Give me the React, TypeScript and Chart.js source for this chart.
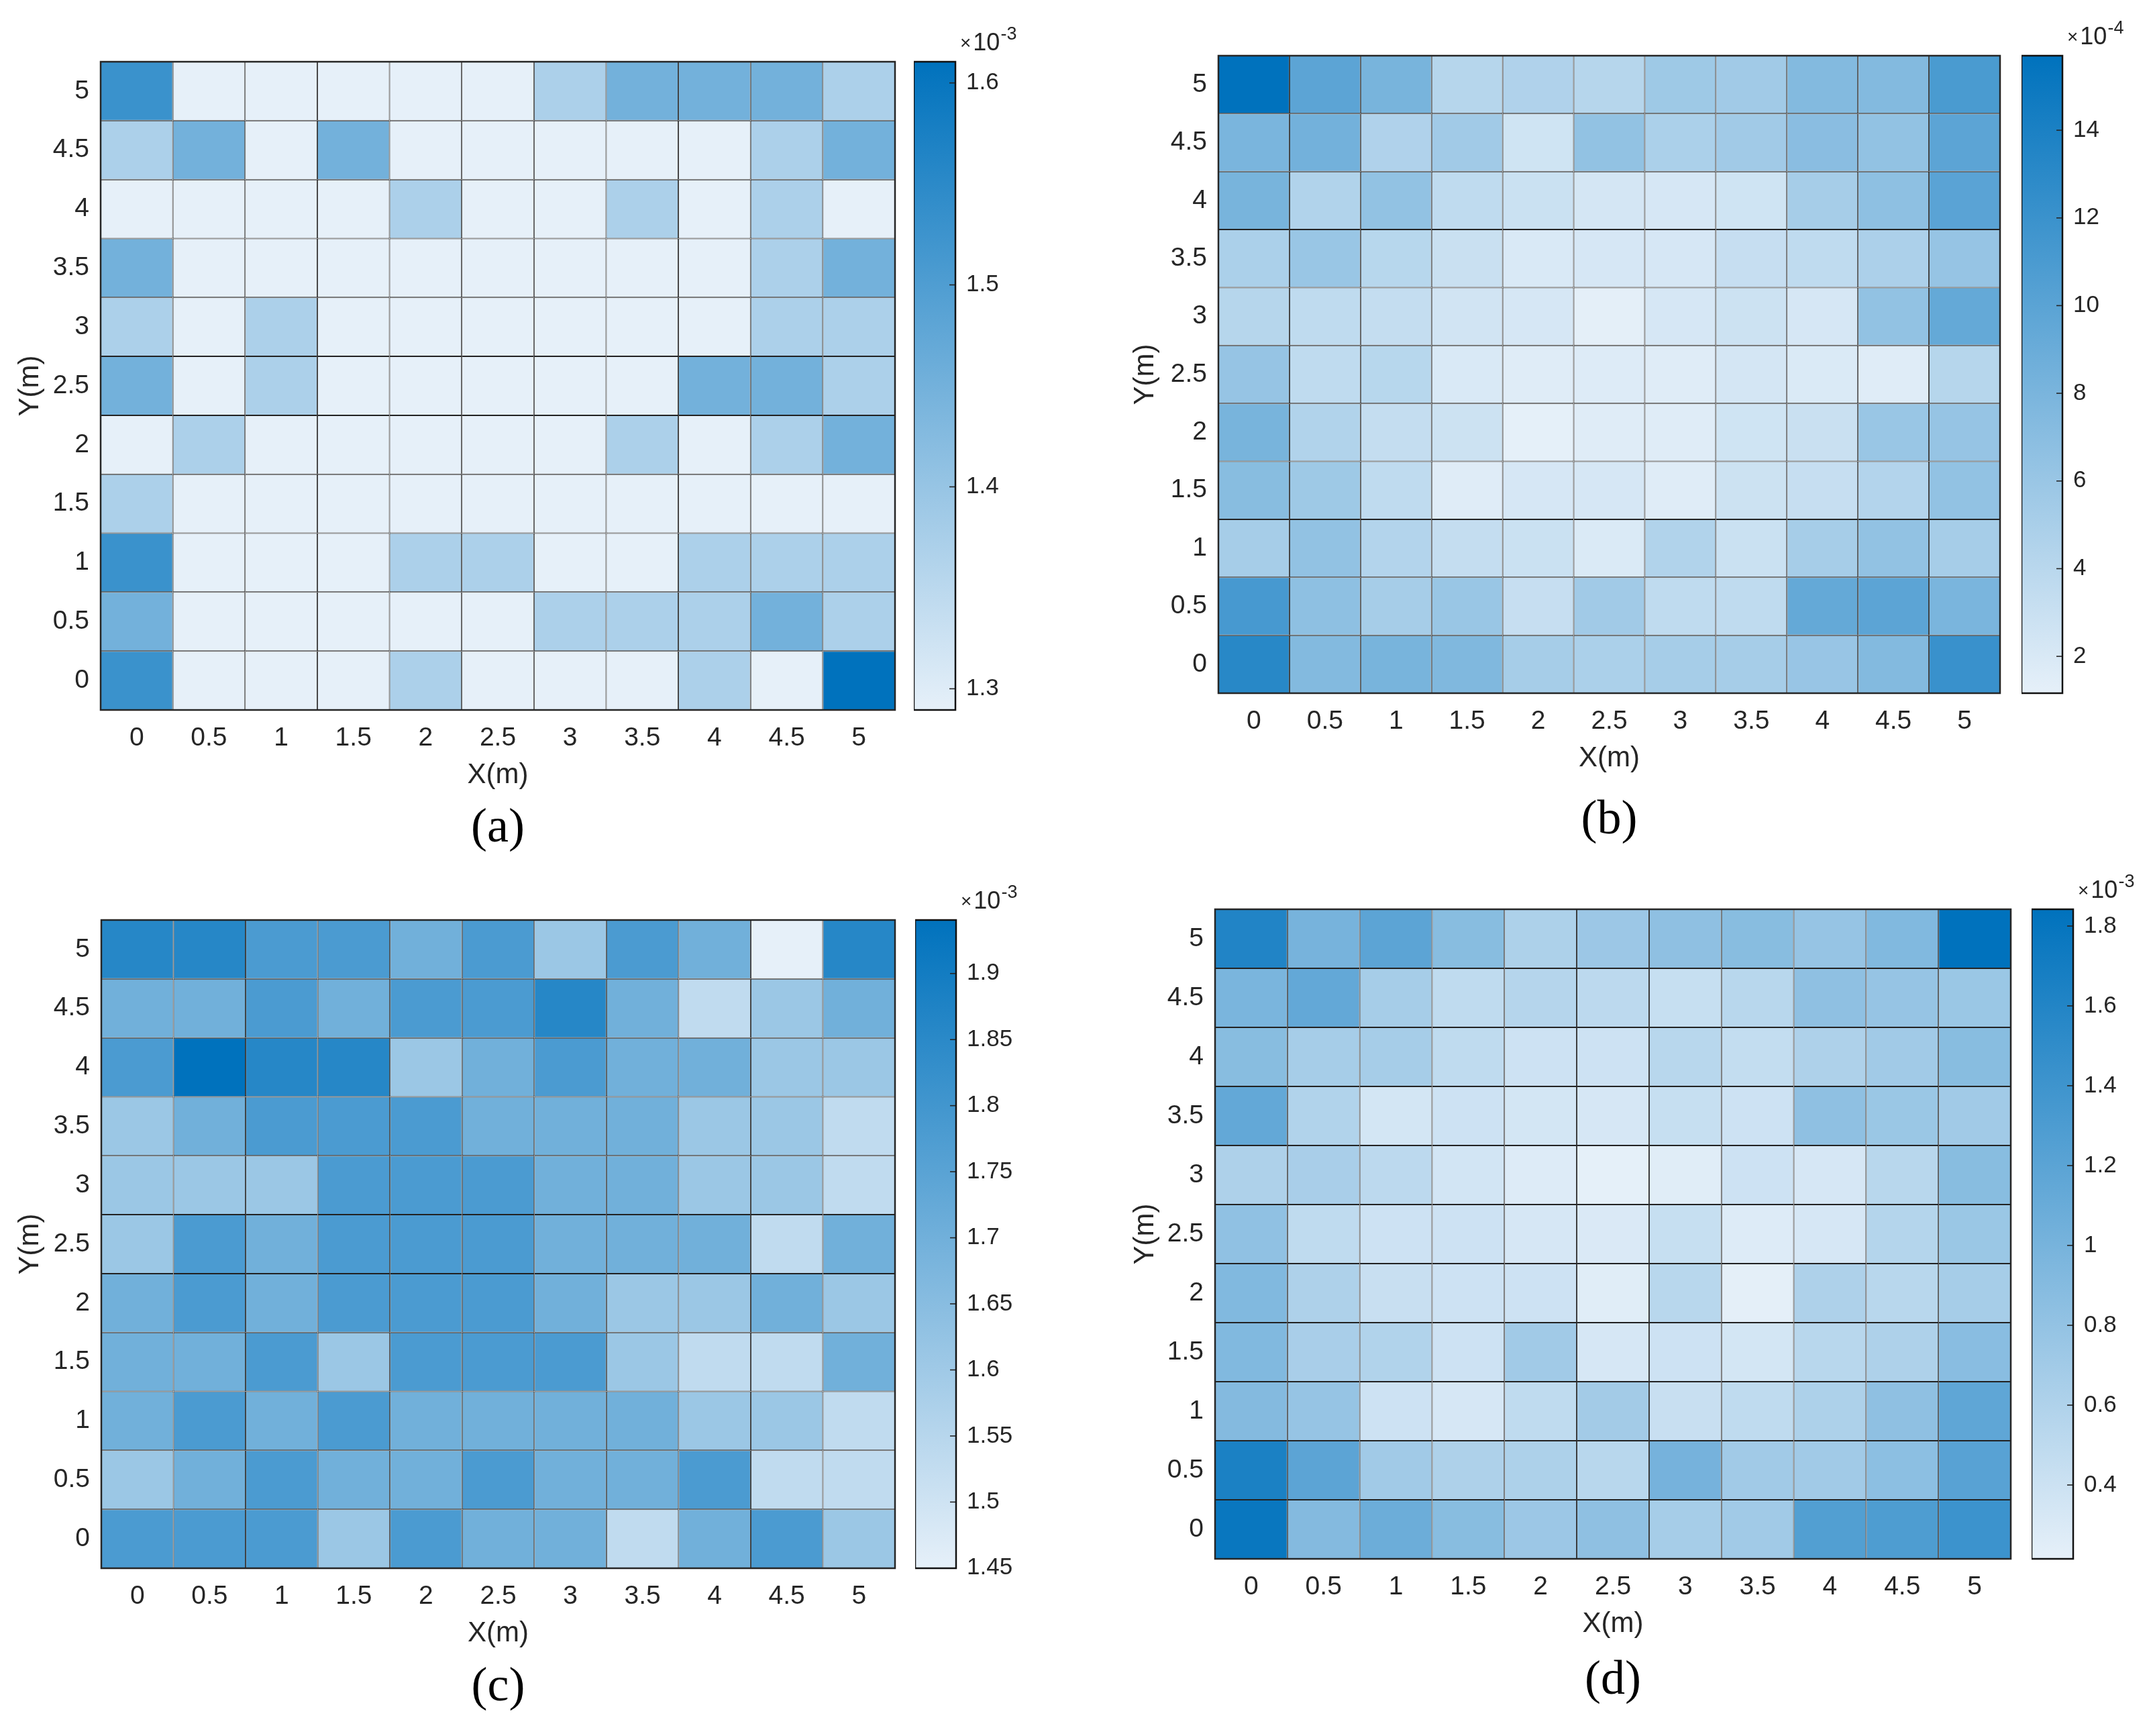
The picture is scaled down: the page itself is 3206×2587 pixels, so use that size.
import React, { useEffect, useRef } from 'react';
import { Chart, registerables } from 'chart.js';

Chart.register(...registerables);

// ---------- data ----------
const xLabels = ['0', '0.5', '1', '1.5', '2', '2.5', '3', '3.5', '4', '4.5', '5'];
const yLabels = ['0', '0.5', '1', '1.5', '2', '2.5', '3', '3.5', '4', '4.5', '5'];

// rows listed from Y = 5 (top) down to Y = 0 (bottom), columns X = 0 .. 5
// (a) values in units of 1e-3
const valuesA = [
  [1.53, 1.29, 1.29, 1.29, 1.29, 1.29, 1.37, 1.45, 1.45, 1.45, 1.37],
  [1.37, 1.45, 1.29, 1.45, 1.29, 1.29, 1.29, 1.29, 1.29, 1.37, 1.45],
  [1.29, 1.29, 1.29, 1.29, 1.37, 1.29, 1.29, 1.37, 1.29, 1.37, 1.29],
  [1.45, 1.29, 1.29, 1.29, 1.29, 1.29, 1.29, 1.29, 1.29, 1.37, 1.45],
  [1.37, 1.29, 1.37, 1.29, 1.29, 1.29, 1.29, 1.29, 1.29, 1.37, 1.37],
  [1.45, 1.29, 1.37, 1.29, 1.29, 1.29, 1.29, 1.29, 1.45, 1.45, 1.37],
  [1.29, 1.37, 1.29, 1.29, 1.29, 1.29, 1.29, 1.37, 1.29, 1.37, 1.45],
  [1.37, 1.29, 1.29, 1.29, 1.29, 1.29, 1.29, 1.29, 1.29, 1.29, 1.29],
  [1.53, 1.29, 1.29, 1.29, 1.37, 1.37, 1.29, 1.29, 1.37, 1.37, 1.37],
  [1.45, 1.29, 1.29, 1.29, 1.29, 1.29, 1.37, 1.37, 1.37, 1.45, 1.37],
  [1.53, 1.29, 1.29, 1.29, 1.37, 1.29, 1.29, 1.29, 1.37, 1.29, 1.61],
];
// (b) values in units of 1e-4
const valuesB = [
  [15.7, 9.9, 8.1, 4.2, 4.6, 4.2, 5.7, 5.5, 7.4, 7.4, 11.0],
  [8.0, 8.4, 4.6, 5.5, 2.6, 6.5, 4.9, 5.5, 7.0, 6.5, 9.9],
  [8.1, 4.5, 6.5, 3.6, 2.9, 2.3, 2.2, 2.6, 5.2, 6.7, 10.0],
  [4.9, 6.0, 4.1, 3.0, 2.0, 2.2, 2.2, 3.2, 3.6, 4.8, 6.2],
  [4.2, 3.6, 3.3, 2.5, 2.2, 1.3, 2.2, 2.8, 2.2, 6.5, 9.4],
  [6.2, 3.6, 4.1, 2.0, 1.6, 1.7, 1.6, 2.3, 1.9, 1.6, 4.2],
  [8.1, 4.5, 3.3, 2.8, 1.2, 1.6, 1.6, 2.6, 3.0, 6.0, 6.2],
  [7.1, 5.7, 3.6, 1.6, 2.2, 2.2, 1.6, 2.8, 3.2, 4.4, 6.5],
  [5.2, 6.5, 4.4, 3.3, 2.9, 1.9, 4.5, 2.9, 5.2, 6.5, 5.2],
  [11.2, 6.7, 5.2, 6.0, 3.2, 5.5, 3.6, 3.6, 9.4, 9.9, 8.0],
  [13.2, 7.4, 8.1, 7.6, 5.2, 4.9, 5.2, 5.2, 6.1, 7.4, 12.1],
];
// (c) values in units of 1e-3
const valuesC = [
  [1.86, 1.86, 1.78, 1.78, 1.70, 1.78, 1.61, 1.78, 1.70, 1.45, 1.86],
  [1.70, 1.70, 1.78, 1.70, 1.78, 1.78, 1.86, 1.70, 1.53, 1.61, 1.70],
  [1.78, 1.94, 1.86, 1.86, 1.61, 1.70, 1.78, 1.70, 1.70, 1.61, 1.61],
  [1.61, 1.70, 1.78, 1.78, 1.78, 1.70, 1.70, 1.70, 1.61, 1.61, 1.53],
  [1.61, 1.61, 1.61, 1.78, 1.78, 1.78, 1.70, 1.70, 1.61, 1.61, 1.53],
  [1.61, 1.78, 1.70, 1.78, 1.78, 1.78, 1.70, 1.70, 1.70, 1.53, 1.70],
  [1.70, 1.78, 1.70, 1.78, 1.78, 1.78, 1.70, 1.61, 1.61, 1.70, 1.61],
  [1.70, 1.70, 1.78, 1.61, 1.78, 1.78, 1.78, 1.61, 1.53, 1.53, 1.70],
  [1.70, 1.78, 1.70, 1.78, 1.70, 1.70, 1.70, 1.70, 1.61, 1.61, 1.53],
  [1.61, 1.70, 1.78, 1.70, 1.70, 1.78, 1.70, 1.70, 1.78, 1.53, 1.53],
  [1.78, 1.78, 1.78, 1.61, 1.78, 1.70, 1.70, 1.53, 1.70, 1.78, 1.61],
];
// (d) values in units of 1e-3
const valuesD = [
  [1.61, 1.00, 1.19, 0.88, 0.62, 0.74, 0.83, 0.88, 0.78, 0.93, 1.84],
  [0.98, 1.14, 0.67, 0.49, 0.56, 0.51, 0.44, 0.54, 0.83, 0.78, 0.75],
  [0.88, 0.67, 0.67, 0.49, 0.39, 0.39, 0.54, 0.46, 0.61, 0.70, 0.88],
  [1.14, 0.59, 0.35, 0.39, 0.35, 0.33, 0.44, 0.39, 0.83, 0.75, 0.70],
  [0.61, 0.65, 0.51, 0.36, 0.28, 0.22, 0.26, 0.39, 0.33, 0.54, 0.88],
  [0.82, 0.49, 0.39, 0.39, 0.33, 0.30, 0.44, 0.28, 0.33, 0.57, 0.75],
  [0.93, 0.61, 0.43, 0.39, 0.39, 0.26, 0.54, 0.23, 0.61, 0.54, 0.67],
  [0.93, 0.65, 0.59, 0.39, 0.70, 0.33, 0.39, 0.35, 0.54, 0.61, 0.87],
  [0.91, 0.78, 0.39, 0.33, 0.49, 0.69, 0.43, 0.49, 0.62, 0.83, 1.17],
  [1.65, 1.19, 0.70, 0.61, 0.62, 0.54, 1.01, 0.70, 0.70, 0.85, 1.22],
  [1.78, 0.91, 1.08, 0.88, 0.74, 0.83, 0.67, 0.70, 1.26, 1.29, 1.42],
];

const rangeA = [1.2895, 1.6105];
const rangeB = [1.16, 15.7];
const rangeC = [1.4499, 1.9405];
const rangeD = [0.215, 1.842];

const cbTicksA = [1.3, 1.4, 1.5, 1.6];
const cbTicksB = [2, 4, 6, 8, 10, 12, 14];
const cbTicksC = [1.45, 1.5, 1.55, 1.6, 1.65, 1.7, 1.75, 1.8, 1.85, 1.9];
const cbTicksD = [0.4, 0.6, 0.8, 1, 1.2, 1.4, 1.6, 1.8];

const cbLabelsA = ['1.3', '1.4', '1.5', '1.6'];
const cbLabelsB = ['2', '4', '6', '8', '10', '12', '14'];
const cbLabelsC = ['1.45', '1.5', '1.55', '1.6', '1.65', '1.7', '1.75', '1.8', '1.85', '1.9'];
const cbLabelsD = ['0.4', '0.6', '0.8', '1', '1.2', '1.4', '1.6', '1.8'];

const exponents = ['-3', '-4', '-3', '-3'];
const panelLetters = ['(a)', '(b)', '(c)', '(d)'];
const xTitle = 'X(m)';
const yTitle = 'Y(m)';

// ---------- style / layout ----------
const SANS = '"Liberation Sans", Arial, Helvetica, sans-serif';
const SERIF = '"Liberation Serif", "Times New Roman", Times, serif';
const TEXT = '#262626';
const LOW = [230, 240, 249];
const HIGH = [0, 114, 189];

const AXIS_W = 150;
const PAD_TOP = 50;
const PAD_RIGHT = 20;
const PAD_BOTTOM = 10;
const XH = 125;
const X_TICK_FONT = 39;
const AXIS_TITLE_FONT = 42;
const LETTER_FONT = 72;
const LETTER_LH = 1.25;
const CB_TICK_FONT = 35;
const CB_TOP = 90;
const CB_BOTTOM = 50;
const CB_AXIS_W = 170;

type Geo = { L: number; T: number; R: number; B: number; cbL: number; cbR: number; yOff: number; letterOff: number };

const layouts: Geo[] = [
  { L: 150, T: 92, R: 1334, B: 1058, cbL: 1362, cbR: 1424, yOff: 105, letterOff: 177 },
  { L: 1816, T: 83, R: 2981, B: 1033, cbL: 3013, cbR: 3074, yOff: 109, letterOff: 190 },
  { L: 151, T: 1371, R: 1334, B: 2337, cbL: 1364, cbR: 1425, yOff: 106, letterOff: 178 },
  { L: 1811, T: 1355, R: 2997, B: 2323, cbL: 3028, cbR: 3090, yOff: 104, letterOff: 182 },
];

const panels = [
  { values: valuesA, range: rangeA, ticks: cbTicksA, labels: cbLabelsA },
  { values: valuesB, range: rangeB, ticks: cbTicksB, labels: cbLabelsB },
  { values: valuesC, range: rangeC, ticks: cbTicksC, labels: cbLabelsC },
  { values: valuesD, range: rangeD, ticks: cbTicksD, labels: cbLabelsD },
];

function colorFor(v: number, min: number, max: number): string {
  let t = (v - min) / (max - min);
  t = Math.max(0, Math.min(1, t));
  const c = LOW.map((lo, i) => Math.round(lo + (HIGH[i] - lo) * t));
  return `rgb(${c[0]},${c[1]},${c[2]})`;
}

const framePlugin = {
  id: 'heatFrame',
  afterDatasetsDraw(chart: any) {
    const { ctx, chartArea: a } = chart;
    ctx.save();
    ctx.strokeStyle = TEXT;
    ctx.lineWidth = 2.5;
    ctx.strokeRect(a.left, a.top, a.right - a.left, a.bottom - a.top);
    ctx.restore();
  },
};

function colorbarDecor(tickValues: number[], exponent: string) {
  return {
    id: 'cbDecor',
    afterDatasetsDraw(chart: any) {
      const { ctx, chartArea: a, scales } = chart;
      const y = scales.y;
      ctx.save();
      ctx.strokeStyle = TEXT;
      ctx.lineWidth = 1.6;
      tickValues.forEach((v) => {
        const py = y.getPixelForValue(v);
        ctx.beginPath();
        ctx.moveTo(a.right - 9, py);
        ctx.lineTo(a.right, py);
        ctx.stroke();
      });
      ctx.strokeStyle = '#111111';
      ctx.lineWidth = 2.5;
      ctx.strokeRect(a.left, a.top, a.right - a.left, a.bottom - a.top);
      ctx.fillStyle = TEXT;
      ctx.textAlign = 'left';
      ctx.textBaseline = 'alphabetic';
      const x0 = a.right + 7;
      const y0 = a.top - 17;
      ctx.font = `28px ${SANS}`;
      ctx.fillText('\u00d7', x0, y0 - 2);
      const wx = ctx.measureText('\u00d7').width;
      ctx.font = `36px ${SANS}`;
      ctx.fillText('10', x0 + wx + 3, y0);
      const w10 = ctx.measureText('10').width;
      ctx.font = `27px ${SANS}`;
      ctx.fillText(exponent, x0 + wx + 3 + w10 + 1, y0 - 16);
      ctx.restore();
    },
  };
}

function heatGeometry(g: Geo) {
  const letterPadTop = g.letterOff - XH - (LETTER_FONT * LETTER_LH) / 2;
  const th = letterPadTop + LETTER_FONT * LETTER_LH;
  return {
    left: g.L - AXIS_W,
    top: g.T - PAD_TOP,
    width: g.R - g.L + AXIS_W + PAD_RIGHT,
    height: Math.round(PAD_TOP + (g.B - g.T) + XH + th + PAD_BOTTOM),
    letterPadTop,
  };
}

function cbGeometry(g: Geo) {
  return {
    left: g.cbL,
    top: g.T - CB_TOP,
    width: g.cbR - g.cbL + CB_AXIS_W,
    height: g.B - g.T + CB_TOP + CB_BOTTOM,
  };
}

function Panel({ index }: { index: number }) {
  const heatRef = useRef<HTMLCanvasElement | null>(null);
  const cbRef = useRef<HTMLCanvasElement | null>(null);
  const g = layouts[index];
  const p = panels[index];
  const hg = heatGeometry(g);
  const cg = cbGeometry(g);

  useEffect(() => {
    const nRows = p.values.length;
    const datasets = p.values.map((row, r) => {
      const yIdx = nRows - 1 - r;
      return {
        data: row.map(() => [yIdx, yIdx + 1]),
        backgroundColor: row.map((v) => colorFor(v, p.range[0], p.range[1])),
        borderColor: '#222222',
        borderWidth: 1,
        borderSkipped: false,
        inflateAmount: 0,
        grouped: false,
        barPercentage: 1,
        categoryPercentage: 1,
      };
    });

    const heat = new Chart(heatRef.current as HTMLCanvasElement, {
      type: 'bar',
      data: { labels: xLabels, datasets: datasets as any },
      options: {
        responsive: false,
        animation: false,
        events: [],
        layout: { padding: { top: PAD_TOP, right: PAD_RIGHT, left: 0, bottom: PAD_BOTTOM } },
        plugins: {
          legend: { display: false },
          tooltip: { enabled: false },
          title: {
            display: true,
            text: panelLetters[index],
            position: 'bottom',
            fullSize: false,
            color: '#000',
            font: { family: SERIF, size: LETTER_FONT, lineHeight: LETTER_LH, weight: 'normal' },
            padding: { top: hg.letterPadTop, bottom: 0 },
          },
        },
        scales: {
          x: {
            type: 'category',
            offset: true,
            grid: { display: false, drawTicks: false, tickLength: 0 },
            border: { display: false },
            ticks: {
              color: TEXT,
              font: { family: SANS, size: X_TICK_FONT, lineHeight: 1.2 },
              padding: 19,
              maxRotation: 0,
              autoSkip: false,
            },
            title: {
              display: true,
              text: xTitle,
              color: TEXT,
              font: { family: SANS, size: AXIS_TITLE_FONT, lineHeight: 1.2 },
              padding: { top: 0, bottom: XH - 97 - (AXIS_TITLE_FONT * 1.2) / 2 },
            },
            afterFit: (s: any) => {
              s.height = XH;
            },
          },
          y: {
            type: 'linear',
            min: 0,
            max: yLabels.length,
            grid: { display: false, drawTicks: false, tickLength: 0 },
            border: { display: false },
            afterBuildTicks: (s: any) => {
              s.ticks = yLabels.map((_, i) => ({ value: i + 0.5 }));
            },
            ticks: {
              color: TEXT,
              font: { family: SANS, size: X_TICK_FONT, lineHeight: 1.2 },
              padding: 17,
              callback: (_v: any, i: number) => yLabels[i],
            },
            title: {
              display: true,
              text: yTitle,
              color: TEXT,
              font: { family: SANS, size: AXIS_TITLE_FONT, lineHeight: 1.2 },
              padding: { top: AXIS_W - g.yOff - (AXIS_TITLE_FONT * 1.2) / 2, bottom: 0 },
            },
            afterFit: (s: any) => {
              s.width = AXIS_W;
            },
          },
        },
      } as any,
      plugins: [framePlugin],
    });

    const cb = new Chart(cbRef.current as HTMLCanvasElement, {
      type: 'bar',
      data: {
        labels: [''],
        datasets: [
          {
            data: [[p.range[0], p.range[1]]] as any,
            backgroundColor: (ctx: any) => {
              const a = ctx.chart.chartArea;
              if (!a) return colorFor(p.range[0], p.range[0], p.range[1]);
              const grad = ctx.chart.ctx.createLinearGradient(0, a.bottom, 0, a.top);
              grad.addColorStop(0, colorFor(p.range[0], p.range[0], p.range[1]));
              grad.addColorStop(1, colorFor(p.range[1], p.range[0], p.range[1]));
              return grad;
            },
            borderWidth: 0,
            inflateAmount: 0,
            barPercentage: 1,
            categoryPercentage: 1,
          } as any,
        ],
      },
      options: {
        responsive: false,
        animation: false,
        events: [],
        layout: { padding: { top: CB_TOP, bottom: CB_BOTTOM, left: 0, right: 0 } },
        plugins: { legend: { display: false }, tooltip: { enabled: false }, title: { display: false } },
        scales: {
          x: { display: false, offset: true },
          y: {
            position: 'right',
            min: p.range[0],
            max: p.range[1],
            grid: { display: false, drawTicks: false, tickLength: 0 },
            border: { display: false },
            afterBuildTicks: (s: any) => {
              s.ticks = p.ticks.map((v) => ({ value: v }));
            },
            ticks: {
              color: TEXT,
              font: { family: SANS, size: CB_TICK_FONT, lineHeight: 1.2 },
              padding: 16,
              callback: (_v: any, i: number) => p.labels[i],
            },
            afterFit: (s: any) => {
              s.width = CB_AXIS_W;
            },
          },
        },
      } as any,
      plugins: [colorbarDecor(p.ticks, exponents[index])],
    });

    return () => {
      heat.destroy();
      cb.destroy();
    };
  }, []);

  return (
    <>
      <canvas
        ref={heatRef}
        width={hg.width}
        height={hg.height}
        style={{ position: 'absolute', left: hg.left, top: hg.top, width: hg.width, height: hg.height }}
      />
      <canvas
        ref={cbRef}
        width={cg.width}
        height={cg.height}
        style={{ position: 'absolute', left: cg.left, top: cg.top, width: cg.width, height: cg.height }}
      />
    </>
  );
}

export default function App() {
  return (
    <div
      style={{
        position: 'absolute',
        left: 0,
        top: 0,
        width: 3206,
        height: 2587,
        background: '#ffffff',
        overflow: 'hidden',
      }}
    >
      {panels.map((_, i) => (
        <Panel key={i} index={i} />
      ))}
    </div>
  );
}
